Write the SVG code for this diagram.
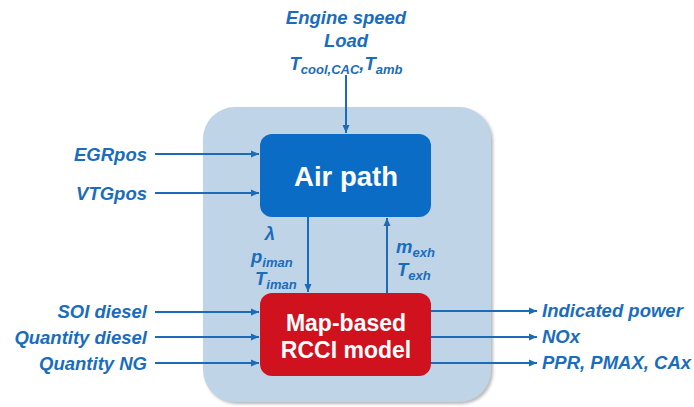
<svg xmlns="http://www.w3.org/2000/svg" width="694" height="407" viewBox="0 0 694 407">
<defs>
<marker id="ah" markerWidth="9" markerHeight="9" refX="8" refY="4.5" orient="auto" markerUnits="userSpaceOnUse">
<path d="M0,1 L8,4.5 L0,8 Z" fill="#1b6cb8"/>
</marker>
<filter id="sh" x="-5%" y="-5%" width="112%" height="112%">
<feDropShadow dx="2" dy="2" stdDeviation="1.5" flood-color="#888" flood-opacity="0.6"/>
</filter>
</defs>
<style>
.lbl{font-family:"Liberation Sans",Arial,sans-serif;font-weight:bold;font-style:italic;font-size:18.5px;fill:#1a6cbc}
.sub{font-size:13px}
.box{font-family:"Liberation Sans",Arial,sans-serif;font-weight:bold;fill:#ffffff;text-anchor:middle}
.conn{stroke:#1b6cb8;stroke-width:2;fill:none;marker-end:url(#ah)}
</style>
<rect width="694" height="407" fill="#ffffff"/>
<g id="container">
<rect x="203" y="107" width="288" height="295" rx="32" fill="#bfd4e7" filter="url(#sh)"/>
</g>
<g id="airpath">
<rect x="260" y="134" width="171" height="83" rx="12" fill="#0b6cc6"/>
<text class="box" x="346" y="186" font-size="27.5">Air path</text>
</g>
<g id="rcci">
<rect x="260" y="293" width="171" height="83" rx="12" fill="#d0121f"/>
<text class="box" x="346" y="331" font-size="23">Map-based</text>
<text class="box" x="346" y="358" font-size="23">RCCI model</text>
</g>
<g id="labels">
<text class="lbl" x="346" y="24" text-anchor="middle">Engine speed</text>
<text class="lbl" x="346" y="47" text-anchor="middle">Load</text>
<text class="lbl" x="346" y="70" text-anchor="middle">T<tspan class="sub" dy="4">cool,CAC</tspan><tspan dy="-4">,T</tspan><tspan class="sub" dy="4">amb</tspan></text>
<text class="lbl" x="147" y="161" text-anchor="end">EGRpos</text>
<text class="lbl" x="147" y="200" text-anchor="end">VTGpos</text>
<text class="lbl" x="147" y="318" text-anchor="end">SOI diesel</text>
<text class="lbl" x="147" y="344" text-anchor="end">Quantity diesel</text>
<text class="lbl" x="147" y="370" text-anchor="end">Quantity NG</text>
<text class="lbl" x="542" y="317">Indicated power</text>
<text class="lbl" x="542" y="343">NOx</text>
<text class="lbl" x="542" y="369">PPR, PMAX, CAx</text>
<text class="lbl" x="270" y="240" text-anchor="middle">λ</text>
<text class="lbl" x="251" y="263">p<tspan class="sub" dy="4">iman</tspan></text>
<text class="lbl" x="255" y="285">T<tspan class="sub" dy="4">iman</tspan></text>
<text class="lbl" x="396" y="253">m<tspan class="sub" dy="4">exh</tspan></text>
<text class="lbl" x="397" y="276">T<tspan class="sub" dy="4">exh</tspan></text>
</g>
<g id="connectors">
<line class="conn" x1="346" y1="75" x2="346" y2="133"/>
<line class="conn" x1="155" y1="154" x2="259" y2="154"/>
<line class="conn" x1="155" y1="193" x2="259" y2="193"/>
<line class="conn" x1="308" y1="217" x2="308" y2="292"/>
<line class="conn" x1="387" y1="293" x2="387" y2="218"/>
<line class="conn" x1="155" y1="312" x2="259" y2="312"/>
<line class="conn" x1="155" y1="337" x2="259" y2="337"/>
<line class="conn" x1="155" y1="363" x2="259" y2="363"/>
<line class="conn" x1="431" y1="311" x2="537" y2="311"/>
<line class="conn" x1="431" y1="337" x2="537" y2="337"/>
<line class="conn" x1="431" y1="363" x2="537" y2="363"/>
</g>
</svg>
